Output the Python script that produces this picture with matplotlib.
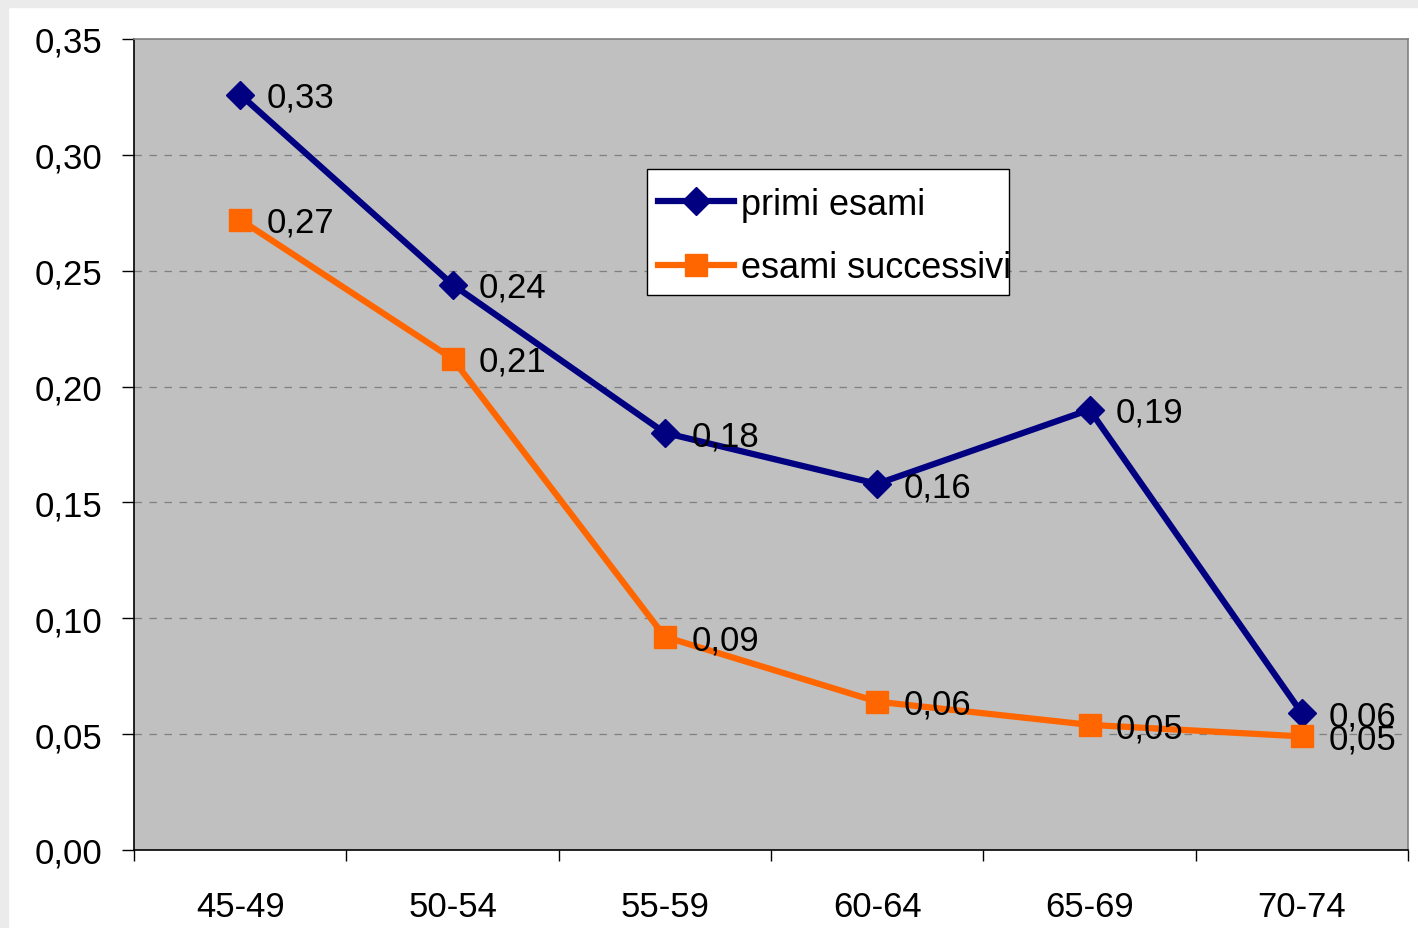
import matplotlib.pyplot as plt
from matplotlib.patches import Rectangle
from matplotlib.ticker import FuncFormatter, FixedLocator

# data
categories = ['45-49', '50-54', '55-59', '60-64', '65-69', '70-74']
primi = [0.326, 0.244, 0.180, 0.158, 0.190, 0.059]
successivi = [0.272, 0.212, 0.092, 0.064, 0.054, 0.049]

plt.rcParams['font.family'] = ['Liberation Sans', 'DejaVu Sans']
plt.rcParams['font.size'] = 25

fig = plt.figure(figsize=(14.18, 9.29), dpi=100, facecolor='white')
# light gray frame on top and left edges
fig.patches.append(Rectangle((0, 0.9914), 1, 0.0086, transform=fig.transFigure,
                             color='#ebebeb', zorder=-10))
fig.patches.append(Rectangle((0, 0), 0.0056, 1, transform=fig.transFigure,
                             color='#ebebeb', zorder=-10))

ax = fig.add_axes([0.0945, 0.084, 0.8985, 0.873])
ax.set_facecolor('#c0c0c0')

x = range(len(categories))
ax.plot(x, primi, color='#000080', lw=4.5, marker='D', ms=14,
        label='primi esami', zorder=3)
ax.plot(x, successivi, color='#ff6600', lw=4.5, marker='s', ms=16,
        label='esami successivi', zorder=3)

def fmt(v):
    return f'{v:.2f}'.replace('.', ',')

for i, v in enumerate(primi):
    ax.annotate(fmt(v), (i, v), xytext=(19, -2), textcoords='offset points',
                va='center', ha='left', fontsize=25, zorder=4)
for i, v in enumerate(successivi):
    ax.annotate(fmt(v), (i, v), xytext=(19, -2), textcoords='offset points',
                va='center', ha='left', fontsize=25, zorder=4)

ax.set_xlim(-0.5, len(categories) - 0.5)
ax.set_ylim(0, 0.35)
ax.set_yticks([0, 0.05, 0.10, 0.15, 0.20, 0.25, 0.30, 0.35])
ax.yaxis.set_major_formatter(FuncFormatter(lambda v, p: fmt(v)))

# tick marks between categories, labels at centers
ax.xaxis.set_major_locator(FixedLocator([i - 0.5 for i in range(len(categories) + 1)]))
ax.xaxis.set_major_formatter(FuncFormatter(lambda v, p: ''))
ax.xaxis.set_minor_locator(FixedLocator(list(x)))
ax.set_xticklabels(categories, minor=True)
ax.tick_params(axis='x', which='minor', length=0, pad=29)
ax.tick_params(axis='x', which='major', length=8, width=1, direction='out')
ax.tick_params(axis='y', length=9, width=1, direction='out', pad=14)

for yv in [0.05, 0.10, 0.15, 0.20, 0.25, 0.30]:
    ax.axhline(yv, color='#808080', lw=0.9, ls=(0, (6, 6)), zorder=1)

ax.spines['left'].set_color('black')
ax.spines['bottom'].set_color('black')
ax.spines['top'].set_color('#808080')
ax.spines['right'].set_color('#808080')
for s in ax.spines.values():
    s.set_linewidth(1.2)

# legend box drawn by hand (text runs to its right edge as in the original)
ax.add_patch(Rectangle((0.403, 0.684), 0.284, 0.156, transform=ax.transAxes,
                       facecolor='white', edgecolor='black', lw=1, zorder=5))
leg = ax.legend(loc='center left', bbox_to_anchor=(0.404, 0.757), fontsize=26,
                frameon=False, borderpad=0.25, handlelength=2.1,
                handletextpad=0.2, labelspacing=0.8, borderaxespad=0)
leg.set_zorder(6)

fig.savefig('out.png', dpi=100)
